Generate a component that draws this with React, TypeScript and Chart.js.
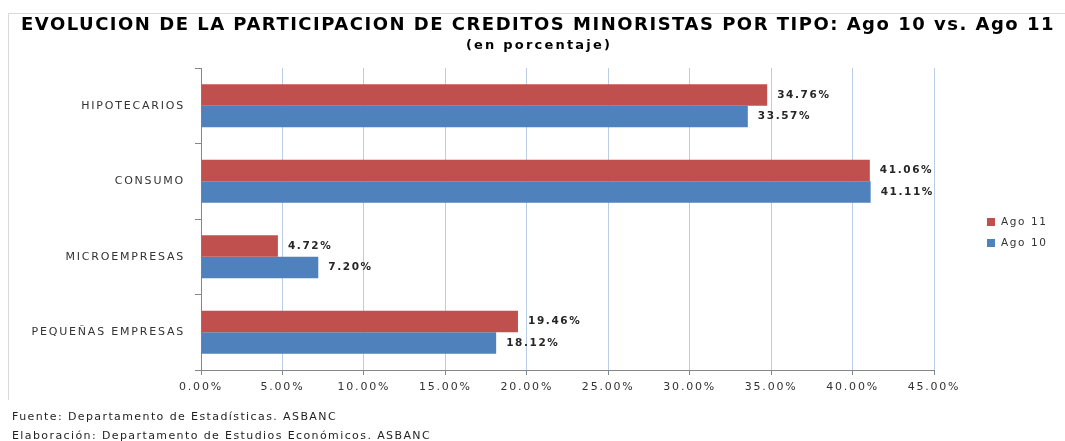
import React, { useEffect, useRef } from "react";
import { Chart, registerables } from "chart.js";

Chart.register(...registerables);

const categories = ["HIPOTECARIOS", "CONSUMO", "MICROEMPRESAS", "PEQUEÑAS EMPRESAS"];
const ago11 = [34.76, 41.06, 4.72, 19.46];
const ago10 = [33.57, 41.11, 7.2, 18.12];
const seriesNames = ["Ago 11", "Ago 10"];
const xTicks = [0, 5, 10, 15, 20, 25, 30, 35, 40, 45];
const titleText = "EVOLUCION DE LA PARTICIPACION DE CREDITOS MINORISTAS POR TIPO: Ago 10 vs. Ago 11";
const subtitleText = "(en porcentaje)";
const footerLines = [
  "Fuente: Departamento de Estadísticas. ASBANC",
  "Elaboración: Departamento de Estudios Económicos. ASBANC",
];

const RED = "#C0504D";
const BLUE = "#4F81BD";
const FONT = "'DejaVu Sans', Verdana, sans-serif";
const AXIS_SPACING = "1.8px";

const decorPlugin = {
  id: "decor",
  beforeUpdate(chart: any) {
    chart.ctx.letterSpacing = AXIS_SPACING;
  },
  beforeDraw(chart: any) {
    chart.ctx.letterSpacing = AXIS_SPACING;
  },
  afterDraw(chart: any) {
    const ctx = chart.ctx as CanvasRenderingContext2D;
    ctx.save();
    // frame
    ctx.strokeStyle = "#D9D9D9";
    ctx.lineWidth = 1;
    ctx.beginPath();
    ctx.moveTo(8.5, 400);
    ctx.lineTo(8.5, 13.5);
    ctx.lineTo(1065, 13.5);
    ctx.stroke();

    // title
    ctx.fillStyle = "#000000";
    ctx.textAlign = "center";
    ctx.textBaseline = "middle";
    (ctx as any).letterSpacing = "1.5px";
    ctx.font = `bold 18px ${FONT}`;
    ctx.fillText(titleText, 538, 25);
    (ctx as any).letterSpacing = "2.2px";
    ctx.font = `bold 13px ${FONT}`;
    ctx.fillText(subtitleText, 539, 46);

    // footer
    ctx.textAlign = "left";
    ctx.font = `11px ${FONT}`;
    ctx.fillStyle = "#1F1F1F";
    (ctx as any).letterSpacing = "1.4px";
    footerLines.forEach((t, i) => ctx.fillText(t, 12, 417 + i * 19));

    // data labels
    ctx.font = `bold 10.5px ${FONT}`;
    ctx.fillStyle = "#262626";
    (ctx as any).letterSpacing = "1.6px";
    chart.data.datasets.forEach((ds: any, di: number) => {
      const meta = chart.getDatasetMeta(di);
      meta.data.forEach((bar: any, i: number) => {
        const v = ds.data[i] as number;
        ctx.fillText(v.toFixed(2) + "%", bar.x + 10, bar.y);
      });
    });

    // legend
    ctx.font = `10.5px ${FONT}`;
    (ctx as any).letterSpacing = "1.6px";
    chart.data.datasets.forEach((ds: any, di: number) => {
      const y = 222 + di * 21;
      ctx.fillStyle = ds.backgroundColor;
      ctx.fillRect(987, y - 4, 8, 8);
      ctx.fillStyle = "#333333";
      ctx.fillText(ds.label, 1001, y);
    });
    ctx.restore();
  },
};

export default function App() {
  const ref = useRef<HTMLCanvasElement | null>(null);
  useEffect(() => {
    if (!ref.current) return;
    const chart = new Chart(ref.current, {
      type: "bar",
      data: {
        labels: categories,
        datasets: [
          { label: seriesNames[0], data: ago11, backgroundColor: RED, borderWidth: 0 },
          { label: seriesNames[1], data: ago10, backgroundColor: BLUE, borderWidth: 0 },
        ],
      },
      options: {
        indexAxis: "y",
        responsive: false,
        animation: false,
        devicePixelRatio: 1,
        datasets: { bar: { categoryPercentage: 0.57, barPercentage: 1.0 } },
        layout: { padding: { top: 68, right: 131, bottom: 41, left: 0 } },
        plugins: { legend: { display: false }, tooltip: { enabled: false }, title: { display: false } },
        scales: {
          x: {
            min: 0,
            max: 45,
            afterFit: (s: any) => { s.height = 30; },
            afterBuildTicks: (s: any) => { s.ticks = xTicks.map((v) => ({ value: v })); },
            ticks: {
              callback: (v: any) => Number(v).toFixed(2) + "%",
              font: { family: FONT, size: 11 },
              color: "#333333",
              padding: 6,
              maxRotation: 0,
            },
            grid: { color: "#B9CDE5", tickColor: "#868686", tickLength: 5, lineWidth: 1 },
            border: { color: "#868686" },
          },
          y: {
            afterFit: (s: any) => { s.width = 201; },
            ticks: {
              font: { family: FONT, size: 11 },
              color: "#333333",
              padding: 10,
            },
            grid: { drawOnChartArea: false, tickColor: "#868686", tickLength: 6, offset: true },
            border: { color: "#868686" },
          },
        },
      },
      plugins: [decorPlugin],
    } as any);
    return () => chart.destroy();
  }, []);
  return (
    <div style={{ position: "fixed", left: 0, top: 0, width: 1065, height: 441, background: "#fff" }}>
      <canvas ref={ref} width={1065} height={441} style={{ width: 1065, height: 441 }} />
    </div>
  );
}
